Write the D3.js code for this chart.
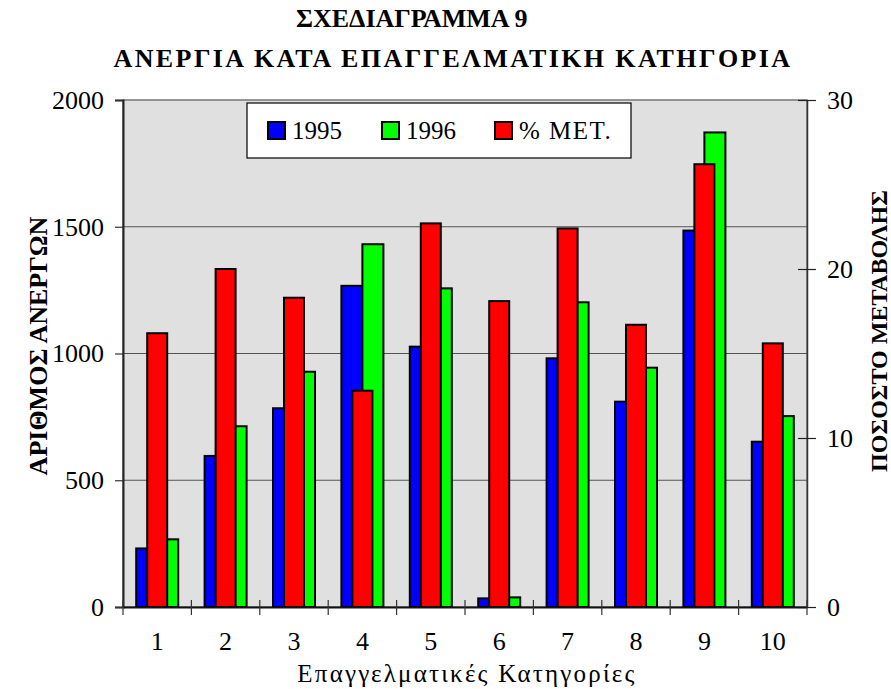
<!DOCTYPE html>
<html>
<head>
<meta charset="utf-8">
<script src="https://cdn.jsdelivr.net/npm/d3@7"></script>
<style>
  body { margin: 0; background: #fff; }
  text { font-family: "Liberation Serif", "Times New Roman", serif; }
</style>
</head>
<body>
<svg id="chart"></svg>
<script>
// data
var categories = ["1", "2", "3", "4", "5", "6", "7", "8", "9", "10"];
var val1995 = [231, 596, 784, 1267, 1027, 34, 981, 810, 1485, 652];
var val1996 = [267, 713, 928, 1431, 1257, 38, 1202, 944, 1872, 753];
var pctChange = [16.2, 20.0, 18.3, 12.8, 22.7, 18.1, 22.4, 16.7, 26.2, 15.6];
var leftTicks = [0, 500, 1000, 1500, 2000];
var rightTicks = [0, 10, 20, 30];
var legendNames = ["1995", "1996", "% ΜΕΤ."];

var width = 891, height = 689;
var plotL = 123, plotR = 807, plotT = 100, plotB = 607;

var svg = d3.select("#chart")
    .attr("width", width)
    .attr("height", height);

var x = d3.scaleBand().domain(categories).range([plotL, plotR]).padding(0);
var y = d3.scaleLinear().domain([0, 2000]).range([plotB, plotT]);
var y2 = d3.scaleLinear().domain([0, 30]).range([plotB, plotT]);

// plot background
svg.append("rect")
    .attr("x", plotL).attr("y", plotT)
    .attr("width", plotR - plotL).attr("height", plotB - plotT)
    .attr("fill", "#e0e0e0")
    .attr("stroke", "#777")
    .attr("stroke-width", 1.5);

// grid
svg.append("g")
    .selectAll("line")
    .data(leftTicks.slice(1, -1))
    .enter().append("line")
    .attr("x1", plotL).attr("x2", plotR)
    .attr("y1", function(d){ return y(d); })
    .attr("y2", function(d){ return y(d); })
    .attr("stroke", "#555")
    .attr("stroke-width", 1.2);

// bars
var bw = 21;
function center(c){ return x(c) + x.bandwidth() / 2; }

svg.append("g").selectAll("rect")
    .data(categories)
    .enter().append("rect")
    .attr("x", function(c){ return center(c) - bw; })
    .attr("y", function(c, i){ return y(val1995[i]); })
    .attr("width", bw)
    .attr("height", function(c, i){ return plotB - y(val1995[i]); })
    .attr("fill", "#0000ff").attr("stroke", "#000").attr("stroke-width", 2);

svg.append("g").selectAll("rect")
    .data(categories)
    .enter().append("rect")
    .attr("x", function(c){ return center(c); })
    .attr("y", function(c, i){ return y(val1996[i]); })
    .attr("width", bw)
    .attr("height", function(c, i){ return plotB - y(val1996[i]); })
    .attr("fill", "#00ff00").attr("stroke", "#000").attr("stroke-width", 2);

svg.append("g").selectAll("rect")
    .data(categories)
    .enter().append("rect")
    .attr("x", function(c){ return center(c) - 10; })
    .attr("y", function(c, i){ return y2(pctChange[i]); })
    .attr("width", 20)
    .attr("height", function(c, i){ return plotB - y2(pctChange[i]); })
    .attr("fill", "#ff0000").attr("stroke", "#000").attr("stroke-width", 2);

// left axis
var axL = svg.append("g")
    .attr("transform", "translate(" + plotL + ",0)")
    .call(d3.axisLeft(y).tickValues(leftTicks).tickFormat(d3.format("d")).tickSize(8).tickPadding(11));
axL.select(".domain").attr("stroke", "#222").attr("stroke-width", 2);
axL.selectAll(".tick line").attr("stroke", "#333").attr("stroke-width", 1.2);
axL.selectAll("text").style("font-size", "26px").attr("fill", "#000");

// right axis, ticks cross the line
var axR = svg.append("g")
    .attr("transform", "translate(" + plotR + ",0)")
    .call(d3.axisRight(y2).tickValues(rightTicks).tickFormat(d3.format("d")).tickSizeInner(9).tickSizeOuter(0).tickPadding(11));
axR.select(".domain").attr("stroke", "#333").attr("stroke-width", 1.5);
axR.selectAll(".tick line").attr("x1", -9).attr("stroke", "#222").attr("stroke-width", 1.2);
axR.selectAll("text").style("font-size", "26px").attr("fill", "#000");

// bottom axis: labels at centres, ticks at group borders
var axB = svg.append("g")
    .attr("transform", "translate(0," + plotB + ")")
    .call(d3.axisBottom(x).tickSize(0).tickPadding(25));
axB.select(".domain").attr("stroke", "#111").attr("stroke-width", 2);
axB.selectAll("text").style("font-size", "26px").attr("fill", "#000");

var borders = categories.map(function(c){ return x(c); }).concat([plotR]);
svg.append("g").selectAll("line")
    .data(borders)
    .enter().append("line")
    .attr("x1", function(d){ return d; }).attr("x2", function(d){ return d; })
    .attr("y1", plotB - 7).attr("y2", plotB + 8)
    .attr("stroke", "#333").attr("stroke-width", 1.2);

// titles
svg.append("text")
    .attr("x", 296).attr("y", 27)
    .style("font-size", "26px").style("font-weight", "bold")
    .text("ΣΧΕΔΙΑΓΡΑΜΜΑ 9");
svg.append("text")
    .attr("x", 453).attr("y", 67)
    .attr("text-anchor", "middle")
    .style("font-size", "26px").style("font-weight", "bold")
    .style("letter-spacing", "2.4px")
    .text("ΑΝΕΡΓΙΑ ΚΑΤΑ ΕΠΑΓΓΕΛΜΑΤΙΚΗ ΚΑΤΗΓΟΡΙΑ");

svg.append("text")
    .attr("x", 467).attr("y", 682)
    .attr("text-anchor", "middle")
    .style("font-size", "25px").style("letter-spacing", "2.2px")
    .text("Επαγγελματικές Κατηγορίες");

svg.append("text")
    .attr("transform", "translate(47,346) rotate(-90)")
    .attr("text-anchor", "middle")
    .style("font-size", "26px").style("font-weight", "bold")
    .text("ΑΡΙΘΜΟΣ ΑΝΕΡΓΩΝ");

svg.append("text")
    .attr("transform", "translate(887,331) rotate(-90)")
    .attr("text-anchor", "middle")
    .style("font-size", "24px").style("font-weight", "bold")
    .text("ΠΟΣΟΣΤΟ ΜΕΤΑΒΟΛΗΣ");

// legend
var legend = svg.append("g");
legend.append("rect")
    .attr("x", 247).attr("y", 103)
    .attr("width", 384).attr("height", 55)
    .attr("fill", "#fff").attr("stroke", "#000").attr("stroke-width", 1.2);

var legColors = ["#0000ff", "#00ff00", "#ff0000"];
var legX = [268, 382, 495];
legendNames.forEach(function(name, i){
    legend.append("rect")
        .attr("x", legX[i]).attr("y", 122)
        .attr("width", 17).attr("height", 17)
        .attr("fill", legColors[i]).attr("stroke", "#000").attr("stroke-width", 2);
    legend.append("text")
        .attr("x", legX[i] + 24).attr("y", 139)
        .style("font-size", "25px")
        .style("letter-spacing", i == 2 ? "1.5px" : "0px")
        .text(name);
});
</script>
</body>
</html>
